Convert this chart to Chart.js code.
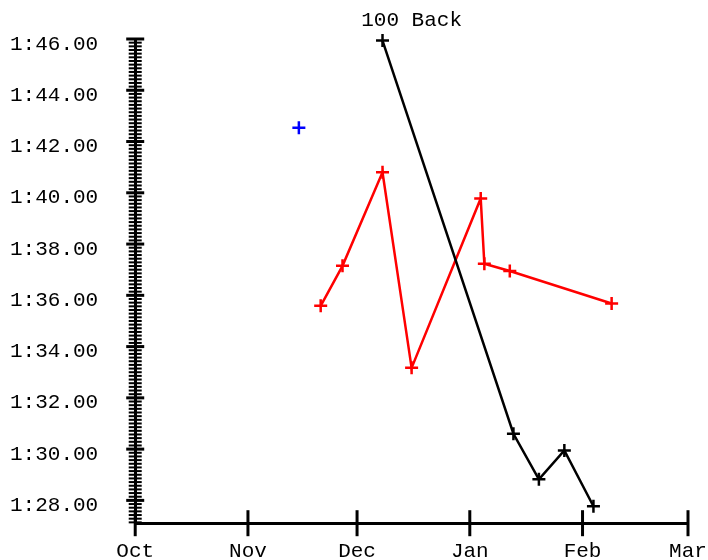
<!DOCTYPE html>
<html>
<head>
<meta charset="utf-8">
<script src="https://cdn.jsdelivr.net/npm/chart.js@4.4.1/dist/chart.umd.min.js"></script>
<style>
    html, body { margin: 0; padding: 0; background: #fff; }
</style>
</head>
<body>
<canvas id="swimChart" width="708" height="560"></canvas>
<script>
const monthLabels = ['Oct', 'Nov', 'Dec', 'Jan', 'Feb', 'Mar']
const monthStarts = ['2003-10-01', '2003-11-01', '2003-12-01', '2004-01-01', '2004-02-01', '2004-03-01']

// times in seconds (1:46.00 = 106)
const blackDates = ['2003-12-08', '2004-01-13', '2004-01-20', '2004-01-27', '2004-02-04']
const blackTimes = [105.94, 90.60, 88.82, 89.95, 87.77]

const redDates = ['2003-11-21', '2003-11-27', '2003-12-08', '2003-12-16', '2004-01-04', '2004-01-05', '2004-01-12', '2004-02-09']
const redTimes = [95.59, 97.15, 100.80, 93.17, 99.78, 97.23, 96.95, 95.68]

const blueDates = ['2003-11-15']
const blueTimes = [102.54]

const yMin = 87.11
const yMax = 106

const mono = '"Liberation Mono", "Courier New", monospace'

function dayOf(d) {
    return (Date.parse(d) - Date.parse(monthStarts[0])) / 86400000
}

function points(dates, times) {
    return dates.map((d, i) => ({ x: dayOf(d), y: times[i] }))
}

function isMajor(v) {
    const k = Math.round(v * 7)
    return Math.abs(v * 7 - k) < 1e-6 && k % 14 === 0
}

function fmtTime(v) {
    const m = Math.floor(v / 60)
    const s = (v - m * 60).toFixed(2)
    return m + ':' + (s.length < 5 ? '0' + s : s)
}

// tick marks that cross the axis line on both sides
const crossTicks = {
    id: 'crossTicks',
    beforeDatasetsDraw(chart) {
        const ctx = chart.ctx
        const xs = chart.scales.x
        const ys = chart.scales.y
        const ax = chart.chartArea.left
        const ay = chart.chartArea.bottom
        ctx.save()
        ctx.strokeStyle = '#000'
        ys.ticks.forEach(t => {
            const p = ys.getPixelForValue(t.value)
            const major = isMajor(t.value)
            const half = major ? 9 : 6.5
            ctx.lineWidth = major ? 3 : 2
            ctx.beginPath()
            ctx.moveTo(ax - half, p)
            ctx.lineTo(ax + half, p)
            ctx.stroke()
        })
        ctx.lineWidth = 3
        xs.ticks.forEach(t => {
            const p = xs.getPixelForValue(t.value)
            ctx.beginPath()
            ctx.moveTo(p, ay - 13)
            ctx.lineTo(p, ay + 13)
            ctx.stroke()
        })
        ctx.restore()
    }
}

function lineSet(label, data, color, showLine) {
    return {
        label: label,
        data: data,
        showLine: showLine,
        borderColor: color,
        backgroundColor: color,
        borderWidth: 2.5,
        tension: 0,
        pointStyle: 'cross',
        pointRadius: 6.5,
        pointBorderWidth: 2.5,
        pointBorderColor: color,
        clip: false,
    }
}

const ctx = document.getElementById('swimChart')
new Chart(ctx, {
    type: 'scatter',
    data: {
        datasets: [
            lineSet('black', points(blackDates, blackTimes), '#000000', true),
            lineSet('red', points(redDates, redTimes), '#ff0000', true),
            lineSet('blue', points(blueDates, blueTimes), '#0000ff', false),
        ],
    },
    options: {
        responsive: false,
        animation: false,
        devicePixelRatio: 1,
        layout: { padding: { left: 10, right: 20, top: 0, bottom: 0 } },
        plugins: {
            legend: { display: false },
            tooltip: { enabled: false },
            title: {
                display: true,
                text: '100 Back',
                fullSize: false,
                color: '#000',
                font: { family: mono, size: 21, weight: 'normal', lineHeight: 1 },
                padding: { top: 9.5, bottom: 8.5 },
            },
        },
        scales: {
            x: {
                type: 'linear',
                min: 0,
                max: dayOf(monthStarts[monthStarts.length - 1]),
                grid: { display: false, drawTicks: true, tickLength: 20 },
                border: { display: true, color: '#000', width: 3 },
                afterBuildTicks: (scale) => {
                    scale.ticks = monthStarts.map(d => ({ value: dayOf(d) }))
                },
                ticks: {
                    autoSkip: false,
                    maxRotation: 0,
                    color: '#000',
                    padding: 0,
                    font: { family: mono, size: 21, lineHeight: 0.8 },
                    callback: (v, i) => monthLabels[i],
                },
            },
            y: {
                type: 'linear',
                min: yMin,
                max: yMax,
                grid: { display: false, drawTicks: true, tickLength: 37 },
                border: { display: true, color: '#000', width: 3 },
                afterBuildTicks: (scale) => {
                    const ticks = []
                    for (let k = Math.ceil(yMin * 7); k <= Math.floor(yMax * 7); k++) {
                        ticks.push({ value: k / 7 })
                    }
                    scale.ticks = ticks
                },
                ticks: {
                    autoSkip: false,
                    color: '#000',
                    padding: 0,
                    labelOffset: 5,
                    font: { family: mono, size: 21 },
                    callback: (v) => isMajor(v) ? fmtTime(v) : '',
                },
            },
        },
    },
    plugins: [crossTicks],
})
</script>
</body>
</html>
